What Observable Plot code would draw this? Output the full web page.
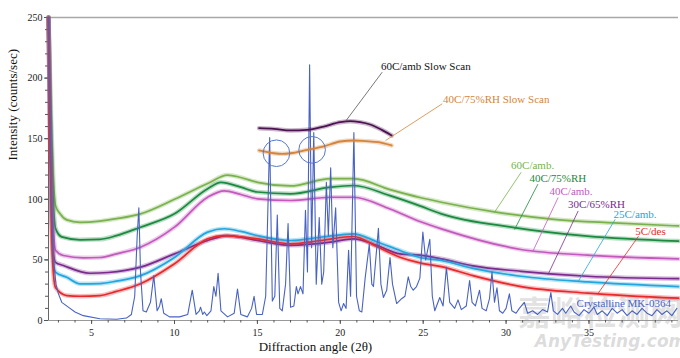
<!DOCTYPE html>
<html>
<head>
<meta charset="utf-8">
<script src="https://cdn.jsdelivr.net/npm/d3@7"></script>
<script src="https://cdn.jsdelivr.net/npm/@observablehq/plot@0.6"></script>
<style>
  html, body { margin: 0; padding: 0; background: #fff; }
  #chart { width: 680px; height: 358px; }
</style>
</head>
<body>
<div id="chart"></div>
<script>
// ---- tick labels ----
const xTicks = [5, 10, 15, 20, 25, 30, 35];
const yTicks = [0, 50, 100, 150, 200, 250];
const xDomain = [2.4, 40.4];
const yDomain = [0, 250];

// ---- series: [2θ, intensity] ----
const amb60 = [[2.4,250],[2.5,200],[2.6,150],[2.7,115],[2.82,95],[3.1,88],[3.5,83],[4.3,81],[5.5,82],[6.5,84],[7.95,88],[10,100],[12,113],[13.2,120],[14,118],[15,114],[17,111],[19.4,117],[20.8,117],[23,108],[24.8,101.5],[26.1,97.6],[29.3,89.6],[32.9,83.5],[36.5,80.5],[40.4,78]];
const rh75_40 = [[2.4,250],[2.5,185],[2.6,130],[2.7,95],[2.82,76],[3.2,69],[4.3,66.6],[5.5,67],[6.5,70],[7.95,77],[10,88],[12,108.7],[12.8,114],[14,110],[15,106],[17,104.5],[19.4,110],[20.8,111.4],[23,103],[24.8,94.6],[26.1,88],[30.5,76.7],[34.9,69.6],[40.4,65.5]];
const amb40 = [[2.4,250],[2.5,170],[2.6,110],[2.7,75],[2.82,58],[3.3,53.6],[4.5,51.7],[5.5,52],[6.5,55],[7.95,60.5],[10,77],[12,101.7],[13,107],[14,104],[15,100.4],[17,99],[19.4,101.7],[20.8,101.7],[23,92],[24.8,81.7],[26.1,75.6],[30.9,58.6],[34.9,53.9],[40.4,50.8]];
const rh65_30 = [[2.4,250],[2.5,150],[2.6,80],[2.7,55],[2.82,48],[3.3,45.4],[4.9,39],[6,39.6],[7.95,44],[10,55],[12,66],[13.2,70],[15,66],[17,62],[19.4,64.6],[20.8,67.4],[22.2,62],[23.6,55],[24.8,53.9],[26.1,50.9],[28,45],[30.9,40.6],[34.9,36.5],[40.4,34.5]];
const amb25 = [[2.4,250],[2.5,155],[2.6,85],[2.7,48],[2.82,40],[3.5,35.7],[4.3,30.3],[5.5,30.5],[6.5,32.5],[7.95,37],[10,52],[12,72.9],[13,75.7],[14,73.5],[15,70],[17,66],[18.8,68.7],[20.8,71.5],[22.2,65],[23.6,57.8],[24.8,52],[26.1,49.5],[28,43],[30.9,36.5],[34.9,31.8],[40.4,28]];
const des5 = [[2.4,250],[2.5,140],[2.6,70],[2.7,38],[2.83,27],[3.5,20.6],[4.3,20],[5.5,20.6],[6.5,24],[7.95,30.3],[10,46.8],[12,67.4],[13,70],[14,69],[15,67.4],[17,63.3],[18.8,66],[20.8,69.3],[22.2,61],[23.6,52.2],[24.8,47.5],[26.1,44.5],[28,37],[30.9,28],[34.9,22.6],[40.4,18.4]];
const slow60 = [[15.1,158.7],[16,158.1],[17,156.8],[18,157.3],[19,160],[20,163.6],[20.6,164.5],[21.2,163.6],[21.8,161.7],[22.5,157.3],[23.1,152.6]];
const slow40 = [[15.1,140.3],[16,138],[16.5,137.5],[17,138],[18,140.8],[19,143.6],[20,147.7],[20.8,148.5],[21.5,148],[22.3,147.1],[23.1,144.4]];
const crystalline = [[2.4,250],[2.5,170],[2.6,90],[2.7,50],[2.85,30],[3.0,22],[3.2,15],[3.7,10],[4.0,7],[4.5,4],[5.5,1.5],[6.5,1],[7.1,2],[7.4,5],[7.6,20],[7.75,70],[7.85,93],[7.95,40],[8.1,8],[8.3,7],[8.55,15],[8.75,37],[8.95,8],[9.1,12],[9.2,18],[9.35,6],[9.7,3],[10.3,3],[10.8,5],[11.07,25],[11.3,5],[11.5,8],[11.57,11],[11.7,5],[11.8,7],[11.95,4],[12.2,8],[12.37,28],[12.5,20],[12.63,39],[12.8,8],[13.2,3],[13.6,6],[13.8,26],[14.0,5],[14.4,3],[14.65,10],[14.8,20],[14.95,5],[15.3,5],[15.5,20],[15.74,151],[15.9,16],[16.05,20],[16.2,87],[16.35,10],[16.5,8],[16.7,30],[16.85,80],[17.0,11],[17.2,12],[17.35,28],[17.45,22],[17.6,28],[17.75,22],[17.9,91],[18.02,40],[18.15,211],[18.27,60],[18.4,155],[18.55,30],[18.73,85],[18.88,30],[19.0,40],[19.16,114],[19.28,70],[19.42,126],[19.55,60],[19.72,93],[19.9,15],[20.05,8],[20.2,14],[20.35,10],[20.5,58],[20.62,20],[20.82,155],[20.98,20],[21.15,8],[21.3,7],[21.5,35],[21.75,63],[21.9,30],[22.0,28],[22.3,76],[22.45,30],[22.6,19],[22.8,25],[23.0,52],[23.15,30],[23.4,14],[23.7,18],[23.9,20],[24.1,36],[24.25,28],[24.4,25],[24.6,28],[24.8,35],[24.98,73],[25.15,50],[25.4,67],[25.55,20],[25.7,8],[26.0,19],[26.2,12],[26.4,44],[26.6,15],[26.9,10],[27.1,17],[27.3,9],[27.6,12],[27.8,33],[27.95,15],[28.15,12],[28.4,25],[28.55,10],[28.8,8],[29.0,18],[29.15,40],[29.3,15],[29.45,27],[29.6,8],[29.8,6],[30.0,10],[30.2,22],[30.35,8],[30.6,6],[30.8,10],[31.1,15],[31.3,6],[31.6,8],[31.9,5],[32.2,9],[32.5,7],[32.7,23],[32.85,8],[33.1,5],[33.4,10],[33.6,6],[33.9,12],[34.1,7],[34.4,4],[34.7,9],[35.0,6],[35.3,11],[35.5,5],[35.8,8],[36.1,4],[36.4,10],[36.7,6],[37.0,9],[37.3,4],[37.6,8],[37.9,5],[38.2,10],[38.5,6],[38.8,4],[39.1,9],[39.4,5],[39.7,8],[40.0,4],[40.3,10]];

// ---- series names / colours ----
const seriesNames = ["60C/amb.", "40C/75%RH", "40C/amb.", "30C/65%RH", "25C/amb.", "5C/des"];
const seriesData = [amb60, rh75_40, amb40, rh65_30, amb25, des5];
const seriesColors = ["#79b24c", "#1b8a3e", "#c25abd", "#7b2a8e", "#22a6df", "#e8282b"];
const crystColor = "#4862c2";
const slowNames = ["60C/amb Slow Scan", "40C/75%RH Slow Scan"];
const slowColors = ["#4c1150", "#d4853a"];

// ---- annotation positions (data units) ----
const labelX = [30.3, 31.41, 32.62, 33.74, 36.48, 37.79];
const labelY = [127.9, 117.6, 106.4, 96.0, 87.6, 73.8];
const leaderFrom = [[29.29,89.1],[30.51,75.1],[31.62,57.2],[32.53,38.0],[34.35,32.2],[35.56,22.6]];
const leaderTo = [[30.91,122.3],[31.92,112.5],[33.14,101.5],[34.35,90.4],[36.58,83.5],[37.99,69.6]];
const slowLabelPos = [[22.45,209.6],[26.2,182.3]];
const slowLeaderFrom = [[20.31,164.2],[22.73,148.5]];
const slowLeaderTo = [[22.53,204.9],[26.15,178.8]];
const slowLeaderColors = ["#555555", "#d4853a"];
const crystLabel = {name: "Crystalline MK-0364", x: 34.25, y: 14.3};
const circles = [[16.15,138],[18.3,140.8]];
const watermark = ["嘉峪检测网", "AnyTesting.com"];

const labels = seriesNames.map((n,i) => ({text:n, x:labelX[i], y:labelY[i], c:seriesColors[i]}));
const leaders = leaderFrom.map((f,i) => ({x1:f[0], y1:f[1], x2:leaderTo[i][0], y2:leaderTo[i][1], c:seriesColors[i]}));
const slowLabels = slowNames.map((n,i) => ({text:n, x:slowLabelPos[i][0], y:slowLabelPos[i][1], c: i===0 ? "#111" : slowColors[i]}));
const slowLeaders = slowLeaderFrom.map((f,i) => ({x1:f[0], y1:f[1], x2:slowLeaderTo[i][0], y2:slowLeaderTo[i][1], c:slowLeaderColors[i]}));

const font = "'Liberation Serif', 'Times New Roman', serif";

const marks = [
  // watermark (faint)
  Plot.text([watermark[0]], {x: 35.7, y: 5, fill: "#9a9a9a", fillOpacity: 0.3, fontSize: 33, fontWeight: "bold", fontFamily: "'Noto Sans CJK SC', sans-serif"}),
  Plot.text([watermark[1]], {x: 36.3, frameAnchor: "bottom", dy: 26, fill: "#9a9a9a", fillOpacity: 0.35, fontSize: 17, fontWeight: "bold", fontStyle: "italic", fontFamily: "'DejaVu Sans', sans-serif"}),
  // frame
  Plot.ruleY([250], {stroke: "#a8a8a8", strokeWidth: 1.5}),
  Plot.ruleY([0], {stroke: "#999"}),
  Plot.ruleX([2.4], {stroke: "#666"}),
  Plot.axisY(d3.range(0, 251, 10), {tickSize: 3, text: null, label: null, stroke: "#555"}),
  Plot.axisY(yTicks, {tickSize: 4, tickPadding: 2, label: null, fontSize: 10, stroke: "#555"}),
  Plot.axisX(d3.range(3, 41, 1), {tickSize: 2.5, text: null, label: null, stroke: "#555"}),
  Plot.axisX(xTicks, {tickSize: 4, tickPadding: 4, label: null, fontSize: 10, stroke: "#555"}),
  // axis titles
  Plot.text(["Intensity (counts/sec)"], {y: 132, frameAnchor: "left", dx: -36, rotate: -90, fontSize: 13, fill: "#111"}),
  Plot.text(["Diffraction angle (2θ)"], {x: 18.5, frameAnchor: "bottom", dy: 30, fontSize: 13, fill: "#111"}),
];
// amorphous scans: a soft band plus a core line (the noisy trace look)
seriesData.forEach((d, i) => {
  marks.push(Plot.line(d, {x: p => p[0], y: p => p[1], stroke: seriesColors[i], strokeWidth: 4.5, strokeOpacity: 0.3, curve: "monotone-x"}));
  marks.push(Plot.line(d, {x: p => p[0], y: p => p[1], stroke: seriesColors[i], strokeWidth: 1.7, curve: "monotone-x"}));
});
marks.push(Plot.line(crystalline, {x: p => p[0], y: p => p[1], stroke: crystColor, strokeWidth: 1.1}));
[slow60, slow40].forEach((d, i) => {
  marks.push(Plot.line(d, {x: p => p[0], y: p => p[1], stroke: slowColors[i], strokeWidth: 4.5, strokeOpacity: 0.3, curve: "monotone-x"}));
  marks.push(Plot.line(d, {x: p => p[0], y: p => p[1], stroke: slowColors[i], strokeWidth: 1.8, curve: "monotone-x"}));
});
marks.push(
  Plot.dot(circles, {x: p => p[0], y: p => p[1], r: 13.3, stroke: "#5a78c8", strokeWidth: 1, fill: "none"}),
  Plot.link(leaders, {x1: "x1", y1: "y1", x2: "x2", y2: "y2", stroke: "c", strokeWidth: 0.8}),
  Plot.link(slowLeaders, {x1: "x1", y1: "y1", x2: "x2", y2: "y2", stroke: "c", strokeWidth: 0.8}),
  Plot.text(labels, {x: "x", y: "y", text: "text", fill: "c", textAnchor: "start", fontSize: 11}),
  Plot.text(slowLabels, {x: "x", y: "y", text: "text", fill: "c", textAnchor: "start", fontSize: 11}),
  Plot.text([crystLabel], {x: "x", y: "y", text: "name", fill: crystColor, textAnchor: "start", fontSize: 11})
);

const chart = Plot.plot({
  width: 680, height: 358,
  marginLeft: 48, marginRight: 2, marginTop: 17, marginBottom: 38,
  x: {domain: xDomain, type: "linear"},
  y: {domain: yDomain, type: "linear"},
  color: {type: "identity"},
  style: {fontFamily: font, fontSize: "10px", background: "#fff", color: "#222", overflow: "visible"},
  marks
});
document.getElementById("chart").appendChild(chart);
</script>
</body>
</html>
